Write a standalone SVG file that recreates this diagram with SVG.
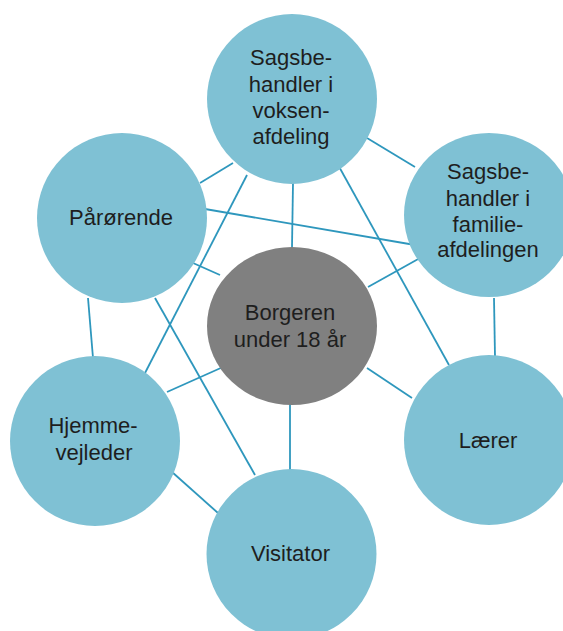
<svg xmlns="http://www.w3.org/2000/svg" width="563" height="631" viewBox="0 0 563 631">
<style>
.edge{stroke:#2E97BD;stroke-width:1.8;fill:none}
.node{fill:#7FC1D4}
.center{fill:#808080}
text{font-family:"Liberation Sans",Arial,sans-serif;font-size:22px;fill:#1E1E1E;text-anchor:middle}
</style>
<rect width="563" height="631" fill="#FFFFFF"/>
<g id="connectors">
<line class="edge" x1="200" y1="183" x2="233" y2="163"/>
<line class="edge" x1="247" y1="175" x2="145" y2="373"/>
<line class="edge" x1="293" y1="183" x2="292" y2="247"/>
<line class="edge" x1="337" y1="163" x2="449" y2="365"/>
<line class="edge" x1="367" y1="138" x2="415" y2="167"/>
<line class="edge" x1="205" y1="209" x2="415" y2="245"/>
<line class="edge" x1="193" y1="263" x2="220" y2="275"/>
<line class="edge" x1="88" y1="298" x2="93" y2="358"/>
<line class="edge" x1="155" y1="298" x2="255" y2="475"/>
<line class="edge" x1="368" y1="287" x2="420" y2="258"/>
<line class="edge" x1="494" y1="298" x2="495" y2="357"/>
<line class="edge" x1="167" y1="392" x2="223" y2="367"/>
<line class="edge" x1="367" y1="368" x2="412" y2="398"/>
<line class="edge" x1="290" y1="404" x2="290" y2="470"/>
<line class="edge" x1="172" y1="472" x2="218" y2="513"/>
</g>
<g id="node-voksen">
<circle class="node" cx="292" cy="99" r="85"/>
<text x="291" y="65">Sagsbe-</text>
<text x="291" y="92">handler i</text>
<text x="291" y="118">voksen-</text>
<text x="291" y="144">afdeling</text>
</g>
<g id="node-familie">
<ellipse class="node" cx="489" cy="215" rx="85" ry="82"/>
<text x="488" y="179">Sagsbe-</text>
<text x="488" y="206">handler i</text>
<text x="488" y="232">familie-</text>
<text x="488" y="257">afdelingen</text>
</g>
<g id="node-parorende">
<circle class="node" cx="122" cy="218" r="85"/>
<text x="121" y="225">Pårørende</text>
</g>
<g id="node-borgeren">
<ellipse class="center" cx="292" cy="326" rx="85" ry="79"/>
<text x="290" y="320">Borgeren</text>
<text x="290" y="347">under 18 år</text>
</g>
<g id="node-hjemmevejleder">
<circle class="node" cx="95" cy="441" r="85"/>
<text x="93" y="433">Hjemme-</text>
<text x="94" y="460">vejleder</text>
</g>
<g id="node-laerer">
<circle class="node" cx="489" cy="440" r="85"/>
<text x="488" y="448">Lærer</text>
</g>
<g id="node-visitator">
<circle class="node" cx="291.5" cy="554" r="85"/>
<text x="290.5" y="561">Visitator</text>
</g>
</svg>
